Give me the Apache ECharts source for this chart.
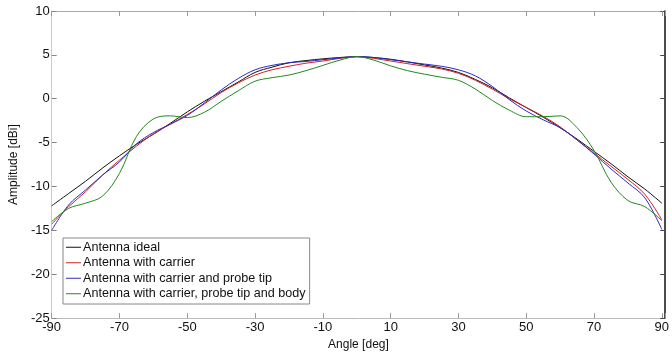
<!DOCTYPE html>
<html><head><meta charset="utf-8">
<script src="https://cdn.jsdelivr.net/npm/echarts@6/dist/echarts.min.js"></script>
<style>html,body{margin:0;padding:0;background:#fff}#c{width:672px;height:356px}</style>
</head><body><div id="c"></div>
<script>
const angles = [-90,-85,-80,-75,-70,-65,-60,-55,-50,-45,-40,-35,-30,-25,-20,-15,-10,-5,0,5,10,15,20,25,30,35,40,45,50,55,60,65,70,75,80,85,90];
const seriesNames = ['Antenna ideal','Antenna with carrier','Antenna with carrier and probe tip','Antenna with carrier, probe tip and body'];
const ideal = [-12.2,-10.8,-9.4,-7.9,-6.5,-5.2,-4.05,-2.8,-1.5,-0.3,0.8,1.9,3.0,3.6,4.1,4.35,4.55,4.7,4.8,4.7,4.5,4.2,3.85,3.5,3.0,2.2,1.25,0.1,-1.0,-2.1,-3.3,-4.6,-6.0,-7.4,-8.9,-10.3,-11.9];
const carrier = [-14.3,-12.3,-10.6,-8.7,-7.0,-5.4,-4.0,-2.9,-1.8,-0.6,0.7,1.8,2.7,3.3,3.7,4.05,4.3,4.6,4.8,4.6,4.3,4.0,3.7,3.4,2.9,2.1,1.1,0.0,-1.0,-2.0,-3.2,-4.7,-6.2,-7.7,-9.2,-10.9,-13.8];
const probeTip = [-15.0,-12.1,-10.4,-8.7,-7.2,-5.15,-3.85,-2.9,-1.9,-0.5,1.0,2.3,3.3,3.8,4.1,4.25,4.45,4.65,4.8,4.7,4.45,4.2,3.95,3.7,3.3,2.6,1.4,-0.1,-1.4,-2.4,-3.3,-4.7,-6.3,-8.0,-9.6,-11.3,-14.9];
const probeBody = [-14.0,-12.5,-11.9,-11.1,-8.5,-4.3,-2.3,-1.95,-2.15,-1.55,-0.3,0.9,2.0,2.4,2.7,3.2,3.8,4.4,4.8,4.4,3.75,3.2,2.8,2.45,2.1,1.1,-0.2,-1.3,-2.05,-2.05,-1.95,-3.3,-5.9,-9.5,-11.6,-12.3,-13.9];
const colors = ['#111111','#d42020','#2a2ac8','#1f8a1f'];
const values = [ideal, carrier, probeTip, probeBody];

const chart = echarts.init(document.getElementById('c'), null, {renderer:'canvas'});
const font = 'Liberation Sans, Arial, sans-serif';
const series = values.map((v,i)=>({
  name: seriesNames[i], type:'line', xAxisIndex:0, yAxisIndex:0,
  data: angles.map((a,j)=>[a, v[j]]),
  symbol:'none', smooth:0.35, lineStyle:{width:1, color:colors[i]}, itemStyle:{color:colors[i]}
}));
chart.setOption({
  animation:false,
  backgroundColor:'#fff',
  grid:{left:41, right:4, top:11, bottom:36},
  legend:{
    orient:'vertical', left:63, top:238, data:seriesNames,
    icon:'rect', itemWidth:15, itemHeight:1,
    backgroundColor:'#fff', borderColor:'#888', borderWidth:1, borderRadius:0,
    padding:[2,4,3,3], itemGap:1,
    textStyle:{fontFamily:font, fontSize:12.6, lineHeight:14.5, color:'#111', padding:[0,0,0,-3]}
  },
  xAxis:[{
    type:'value', min:-90, max:91, interval:20, position:'bottom',
    name:'Angle [deg]', nameLocation:'middle', nameGap:16,
    nameTextStyle:{fontFamily:font, fontSize:12, color:'#111'},
    axisLine:{onZero:false, lineStyle:{color:'#bbb', width:1}},
    axisTick:{inside:true, length:5, lineStyle:{color:'#999'}},
    axisLabel:{fontFamily:font, fontSize:13, color:'#111', margin:3,
      formatter:v=>(Math.abs(v)%20===10?String(v):'')},
    splitLine:{show:false}
  },{
    type:'value', min:-90, max:91, interval:20, position:'top',
    axisLine:{onZero:false, lineStyle:{color:'#aaa', width:1}},
    axisTick:{inside:true, length:5, lineStyle:{color:'#999'}},
    axisLabel:{show:false}, splitLine:{show:false}
  }],
  yAxis:[{
    type:'value', min:-25, max:10, interval:5, position:'left',
    name:'Amplitude [dBi]', nameLocation:'middle', nameGap:20, nameRotate:90,
    nameTextStyle:{fontFamily:font, fontSize:12, color:'#111'},
    axisLine:{onZero:false, lineStyle:{color:'#ccc', width:1}},
    axisTick:{inside:true, length:5, lineStyle:{color:'#888'}},
    axisLabel:{fontFamily:font, fontSize:13, color:'#111', margin:2},
    splitLine:{show:false}
  },{
    type:'value', min:-25, max:10, interval:5, position:'right',
    axisLine:{onZero:false, lineStyle:{color:'#111', width:1.5}},
    axisTick:{inside:true, length:5, lineStyle:{color:'#444'}},
    axisLabel:{show:false}, splitLine:{show:false}
  }],
  series: series
});
</script></body></html>
